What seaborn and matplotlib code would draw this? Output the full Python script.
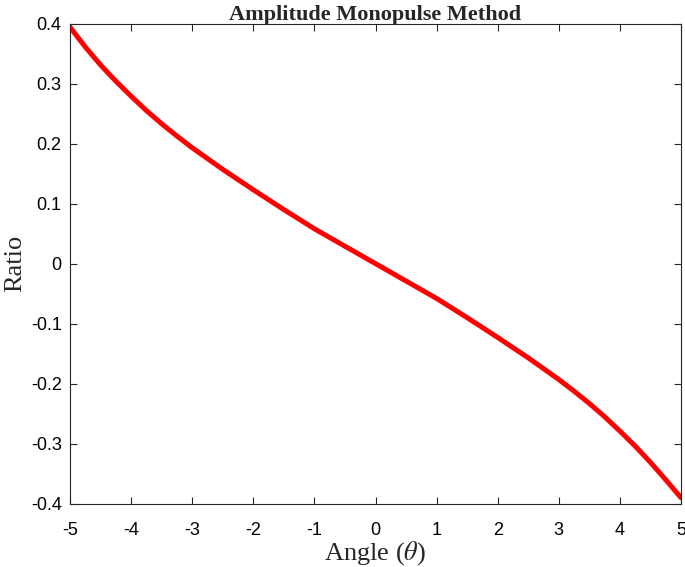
import numpy as np
import pandas as pd
import matplotlib
matplotlib.use("Agg")
import matplotlib.pyplot as plt
import seaborn as sns

angle = [-5.0, -4.75, -4.5, -4.25, -4.0, -3.75, -3.5, -3.25, -3.0, -2.75, -2.5,
         -2.25, -2.0, -1.75, -1.5, -1.25, -1.0, -0.75, -0.5, -0.25, 0.0,
         0.25, 0.5, 0.75, 1.0, 1.25, 1.5, 1.75, 2.0, 2.25, 2.5,
         2.75, 3.0, 3.25, 3.5, 3.75, 4.0, 4.25, 4.5, 4.75, 5.0]
ratio = [0.394, 0.361, 0.331, 0.304, 0.279, 0.255, 0.233, 0.2125, 0.193, 0.175, 0.157,
         0.140, 0.123, 0.1065, 0.090, 0.074, 0.058, 0.0435, 0.029, 0.0145, 0.0,
         -0.0145, -0.029, -0.0435, -0.058, -0.074, -0.090, -0.1065, -0.123, -0.140, -0.157,
         -0.175, -0.193, -0.2125, -0.233, -0.255, -0.279, -0.304, -0.331, -0.360, -0.390]
xticks = [-5, -4, -3, -2, -1, 0, 1, 2, 3, 4, 5]
yticks = [-0.4, -0.3, -0.2, -0.1, 0, 0.1, 0.2, 0.3, 0.4]
ytick_labels = ["-0.4", "-0.3", "-0.2", "-0.1", "0", "0.1", "0.2", "0.3", "0.4"]

sns.set_theme(style="ticks")
plt.rcParams["font.family"] = ["Liberation Sans", "DejaVu Sans"]
plt.rcParams["mathtext.fontset"] = "stix"

df = pd.DataFrame({"Angle": angle, "Ratio": ratio})

fig = plt.figure(figsize=(6.85, 5.67), dpi=100)
ax = fig.add_axes([70/685, 1-503.7/567, (681-70)/685, (503.7-23.5)/567])
sns.lineplot(data=df, x="Angle", y="Ratio", color="red", linewidth=3.6, ax=ax)

ax.set_xlim(-5, 5)
ax.set_ylim(-0.4, 0.4)
ax.set_xticks(xticks)
ax.set_xticklabels([str(t) for t in xticks])
ax.set_yticks(yticks)
ax.set_yticklabels(ytick_labels)
ax.tick_params(direction="in", length=5, width=0.8, color="#262626",
               labelsize=13, labelcolor="black", top=True, right=True)
ax.tick_params(axis="x", pad=13)
ax.tick_params(axis="y", pad=6)
for s in ax.spines.values():
    s.set_visible(True)
    s.set_color("#262626")
    s.set_linewidth(0.8)

serif = ["Liberation Serif", "DejaVu Serif"]
ax.set_title("Amplitude Monopulse Method", fontsize=16, fontweight="bold",
             family=serif, pad=2.5)
ax.set_xlabel("Angle ($\\theta$)", fontsize=19, family=serif, labelpad=0)
ax.set_ylabel("Ratio", fontsize=19, family=serif)
ax.yaxis.set_label_coords(-0.072, 0.5)

fig.savefig("out.png", dpi=100)
